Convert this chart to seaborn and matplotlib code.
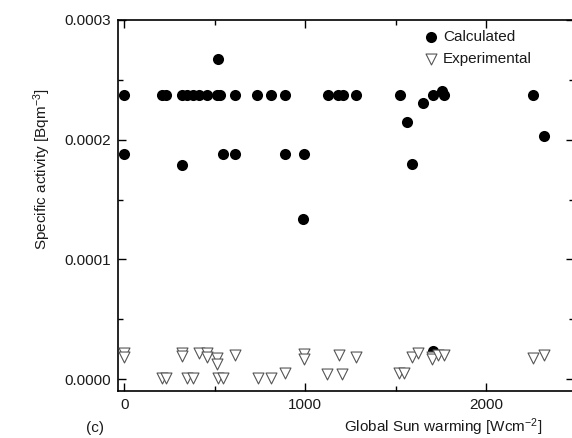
import matplotlib
matplotlib.use("Agg")
import matplotlib.pyplot as plt
import matplotlib.ticker as mticker
import seaborn as sns
import pandas as pd

# Calculated values
calc_x = [0, 207, 231, 318, 349, 378, 412, 456, 511, 526, 611, 734, 812, 889,
          1124, 1183, 1209, 1282, 1522, 1705, 1767, 2260, 1753,
          0, 546, 611, 889, 991,
          318, 517, 990, 1651, 1563, 1587, 2321, 1705]
calc_y = [0.000237] * 22 + [0.000241] + [0.000188] * 5 + \
         [0.000179, 0.000267, 0.000134, 0.000231, 0.000215, 0.000180, 0.000203, 0.0000235]

# Experimental values
exp_x = [0, 0, 318, 318, 410, 456, 456, 514, 514, 611, 991, 991, 1184, 1281,
         1590, 1624, 1703, 1703, 1731, 1767, 2260, 2321,
         207, 231, 349, 378, 520, 546, 736, 810, 886, 1120, 1203, 1516, 1544]
exp_y = [0.0000215, 0.0000185, 0.000022, 0.000019, 0.000022, 0.0000215, 0.000018,
         0.0000175, 0.0000125, 0.000020, 0.000021, 0.0000165, 0.000020, 0.000018,
         0.000018, 0.0000215, 0.0000185, 0.0000165, 0.000020, 0.000020,
         0.0000173, 0.000020,
         0.000001, 0.000001, 0.000001, 0.000001, 0.000001, 0.000001, 0.000001,
         0.000001, 0.000005, 0.000004, 0.000004, 0.000005, 0.000005]

calc_df = pd.DataFrame({"x": calc_x, "y": calc_y})
exp_df = pd.DataFrame({"x": exp_x, "y": exp_y})

sns.set_style("ticks")
plt.rcParams["font.family"] = ["Liberation Sans", "DejaVu Sans"]
plt.rcParams["mathtext.fontset"] = "custom"
plt.rcParams["mathtext.rm"] = "Liberation Sans"
plt.rcParams["mathtext.it"] = "Liberation Sans:italic"

fig = plt.figure(figsize=(5.72, 4.38), dpi=100)
L, R, B, T = 118 / 572, 574 / 572, 1 - 391 / 438, 1 - 20 / 438
ax = fig.add_axes([L, B, R - L, T - B])

sns.scatterplot(data=calc_df, x="x", y="y", ax=ax, marker="o", s=64,
                color="black", edgecolor="black", linewidth=0, label="Calculated", zorder=3)
sns.scatterplot(data=exp_df, x="x", y="y", ax=ax, marker="v", s=62,
                facecolor="white", edgecolor="#555555", linewidth=0.8,
                label="Experimental", zorder=4)

ax.set_xlim(-35, 2485)
ax.set_ylim(-0.00001, 0.0003)
ax.xaxis.set_major_locator(mticker.MultipleLocator(1000))
ax.xaxis.set_minor_locator(mticker.MultipleLocator(500))
ax.yaxis.set_major_locator(mticker.MultipleLocator(0.0001))
ax.yaxis.set_minor_locator(mticker.MultipleLocator(0.00005))
ax.yaxis.set_major_formatter(mticker.FormatStrFormatter("%.4f"))
ax.tick_params(which="both", direction="in", top=True, right=True,
               labelsize=11, pad=5, width=1.0, color="black", labelcolor="#1a1a1a")
ax.tick_params(which="major", length=6)
ax.tick_params(which="minor", length=3.5)
for s in ax.spines.values():
    s.set_linewidth(1.2)
    s.set_color("black")

ax.set_xlabel("")
ax.set_ylabel("")
fig.text(542 / 572, 1 - 427 / 438, "Global Sun warming [Wcm$^{-2}$]", ha="right",
         va="center", fontsize=11, color="#1a1a1a")
fig.text(42 / 572, 1 - 169 / 438, "Specific activity [Bqm$^{-3}$]", ha="center",
         va="center", rotation=90, fontsize=11, color="#1a1a1a")
fig.text(86 / 572, 1 - 428 / 438, "(c)", ha="left", va="center", fontsize=11,
         color="#1a1a1a")

leg = ax.legend(loc="upper left", bbox_to_anchor=(423 / 572, 1 - 30 / 438),
                bbox_transform=fig.transFigure, frameon=False, fontsize=11,
                handlelength=1.0, handletextpad=0.3, borderpad=0, borderaxespad=0,
                labelspacing=0.55)
for t in leg.get_texts():
    t.set_color("#1a1a1a")

fig.savefig("out.png", dpi=100)
